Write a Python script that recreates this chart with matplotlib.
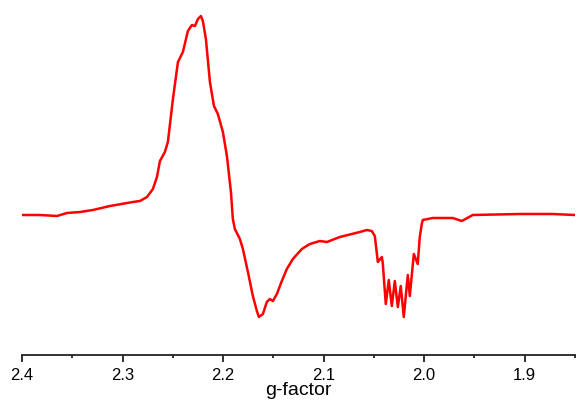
import matplotlib
matplotlib.use("Agg")
import matplotlib.pyplot as plt
from matplotlib.ticker import MultipleLocator

# g-factor values (x) and EPR intensity (arbitrary units, baseline = 0)
g_factor = [2.4000, 2.3821, 2.3652, 2.3553, 2.3423, 2.3294, 2.3125, 2.2897, 2.2827,
            2.2757, 2.2698, 2.2658, 2.2628, 2.2579, 2.2549, 2.2499, 2.2449, 2.2400,
            2.2350, 2.2310, 2.2280, 2.2250, 2.2221, 2.2201, 2.2171, 2.2131, 2.2091,
            2.2052, 2.2002, 2.1962, 2.1922, 2.1903, 2.1883, 2.1833, 2.1803, 2.1753,
            2.1704, 2.1664, 2.1644, 2.1604, 2.1565, 2.1535, 2.1505, 2.1465, 2.1416,
            2.1366, 2.1306, 2.1217, 2.1137, 2.1038, 2.0968, 2.0839, 2.0640, 2.0571,
            2.0521, 2.0491, 2.0461, 2.0421, 2.0412, 2.0382, 2.0352, 2.0322, 2.0292,
            2.0262, 2.0233, 2.0203, 2.0163, 2.0143, 2.0103, 2.0064, 2.0044, 2.0024,
            2.0014, 1.9915, 1.9716, 1.9626, 1.9517, 1.9050, 1.8722, 1.8503]
intensity = [-2, -2, -3, 0, 1, 3, 7, 11, 12,
             16, 24, 36, 52, 61, 71, 114, 151, 161,
             182, 188, 187, 194, 197, 192, 174, 131, 107,
             99, 81, 57, 21, -6, -16, -26, -36, -59,
             -83, -98, -104, -101, -89, -86, -88, -81, -68,
             -56, -46, -36, -31, -28, -29, -24, -19, -17,
             -18, -23, -49, -44, -50, -91, -67, -93, -68,
             -94, -73, -104, -62, -83, -41, -51, -24, -11,
             -7, -5, -5, -8, -2, -1, -1, -2]

x_ticks = [2.4, 2.3, 2.2, 2.1, 2.0, 1.9]
x_label = "g-factor"

plt.rcParams['font.family'] = ['Liberation Sans', 'DejaVu Sans']

fig = plt.figure(figsize=(5.77, 4.02), dpi=100)
ax = fig.add_axes([22 / 577, 1 - 355.5 / 402, 553 / 577, 355.5 / 402])

ax.plot(g_factor, intensity, color='#ff0000', lw=1.8, solid_joinstyle='round')

ax.set_xlim(2.4, 1.85)
ax.set_ylim(-141.5, 214)

for s in ['top', 'right', 'left']:
    ax.spines[s].set_visible(False)
ax.spines['bottom'].set_linewidth(1.3)
ax.spines['bottom'].set_color('#222222')
ax.set_yticks([])
ax.set_xticks(x_ticks)
ax.set_xticklabels([f"{t:.1f}" for t in x_ticks])
ax.xaxis.set_minor_locator(MultipleLocator(0.05))
ax.tick_params(axis='x', which='major', direction='out', length=5, width=1.3,
               labelsize=12, pad=4, color='#222222')
ax.tick_params(axis='x', which='minor', direction='out', length=2.5, width=1.3,
               color='#222222')
ax.set_xlabel(x_label, fontsize=14, labelpad=-1)

fig.savefig("out.png", dpi=100)
